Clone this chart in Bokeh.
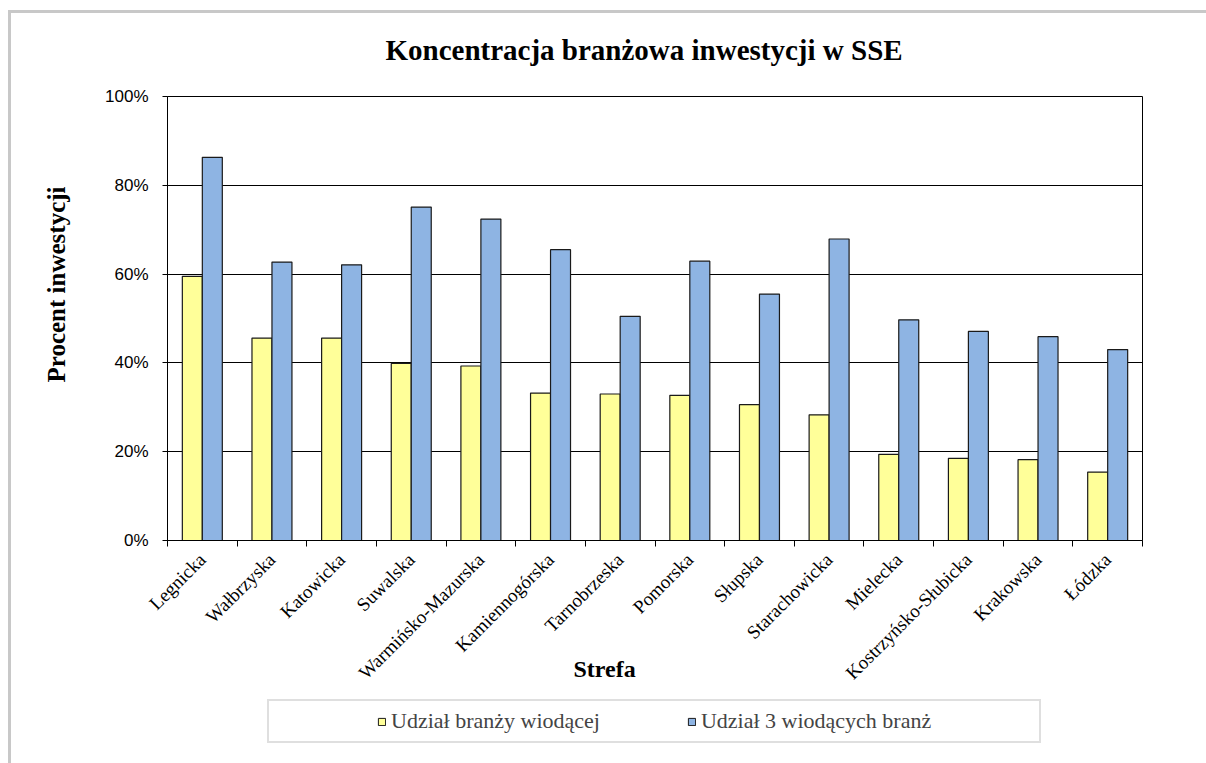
import math
from bokeh.plotting import figure
from bokeh.layouts import column
from bokeh.models import (ColumnDataSource, FixedTicker, PrintfTickFormatter, Title,
                          Legend, LegendItem, Range1d)
from bokeh.transform import dodge
from bokeh.embed import file_html
from bokeh.resources import INLINE

# ---- data ----
strefy = ["Legnicka", "Wałbrzyska", "Katowicka", "Suwalska", "Warmińsko-Mazurska",
          "Kamiennogórska", "Tarnobrzeska", "Pomorska", "Słupska", "Starachowicka",
          "Mielecka", "Kostrzyńsko-Słubicka", "Krakowska", "Łódzka"]
udzial_branzy_wiodacej = [59.5, 45.6, 45.6, 39.9, 39.3, 33.2, 33.0, 32.7, 30.6, 28.3,
                          19.4, 18.5, 18.2, 15.4]
udzial_3_branz = [86.3, 62.7, 62.1, 75.1, 72.4, 65.5, 50.5, 62.9, 55.5, 67.9,
                  49.7, 47.1, 45.9, 43.0]
y_ticks = [0, 20, 40, 60, 80, 100]
series_names = ["Udział branży wiodącej", "Udział 3 wiodących branż"]
series_colors = ["#FFFF99", "#8EB4E3"]
title_text = "Koncentracja branżowa inwestycji w SSE"
x_title = "Strefa"
y_title = "Procent inwestycji"

SERIF = "Liberation Serif"
SANS = "Liberation Sans"
EDGE = "#1a1a1a"
BORDER = "#c8c8c8"

n = len(strefy)
centers = [i + 0.5 for i in range(n)]
src = ColumnDataSource(dict(x=centers, strefa=strefy,
                            jedna=udzial_branzy_wiodacej, trzy=udzial_3_branz))

p = figure(width=1206, height=698, x_range=Range1d(0, n), y_range=Range1d(0, 100),
           output_backend="svg", toolbar_location=None,
           min_border_left=167, min_border_right=64, min_border_top=96,
           min_border_bottom=158)

bw = 0.287
p.vbar(x=dodge("x", -bw / 2), top="jedna", width=bw, source=src,
       fill_color=series_colors[0], line_color=EDGE, line_width=1.2)
p.vbar(x=dodge("x", bw / 2), top="trzy", width=bw, source=src,
       fill_color=series_colors[1], line_color=EDGE, line_width=1.2)

# title
p.title.text = title_text
p.title.text_font = SERIF
p.title.text_font_size = "29px"
p.title.text_font_style = "bold"
p.title.text_color = "black"
p.title.align = "left"
p.title.offset = 218
p.title.standoff = 62

# x axis
xa = p.xaxis[0]
xa.ticker = FixedTicker(ticks=centers, minor_ticks=list(range(n + 1)))
xa.major_label_overrides = {c: s for c, s in zip(centers, strefy)}
xa.major_tick_line_color = None
xa.major_tick_out = 0
xa.major_tick_in = 0
xa.minor_tick_line_color = "black"
xa.minor_tick_out = 6
xa.minor_tick_in = 0
xa.major_label_orientation = math.pi / 4
xa.major_label_standoff = 10
xa.major_label_text_font = SERIF
xa.major_label_text_font_size = "19px"
xa.major_label_text_color = "black"
xa.axis_line_color = "black"

# y axis
ya = p.yaxis[0]
ya.ticker = FixedTicker(ticks=y_ticks)
ya.formatter = PrintfTickFormatter(format="%d%%")
ya.major_tick_out = 5
ya.major_tick_in = 0
ya.minor_tick_line_color = None
ya.major_label_standoff = 14
ya.major_label_text_font = SANS
ya.major_label_text_font_size = "17px"
ya.major_label_text_color = "black"
ya.axis_line_color = "black"

p.xgrid.visible = False
p.ygrid.ticker = FixedTicker(ticks=y_ticks)
p.ygrid.grid_line_color = "black"
p.ygrid.grid_line_width = 1
p.outline_line_color = "black"
p.outline_line_width = 1
p.background_fill_color = "white"
p.border_fill_alpha = 0

# axis titles as side-panel titles
p.add_layout(Title(text=y_title, align="right", offset=90, standoff=66,
                   vertical_align="bottom", text_font=SERIF, text_font_style="bold",
                   text_font_size="25px", text_color="black"), "left")
p.add_layout(Title(text=x_title, align="left", offset=406, standoff=-76,
                   vertical_align="top", text_font=SERIF, text_font_style="bold",
                   text_font_size="24px", text_color="black"), "below")

# legend strip (separate small figure below the chart; its renderers are hidden)
lf = figure(width=1206, height=65, x_range=Range1d(100, 101), y_range=Range1d(-2, -1),
            output_backend="svg", toolbar_location=None, title=None,
            x_axis_location=None, y_axis_location=None,
            min_border_left=0, min_border_right=0, min_border_top=0, min_border_bottom=0)
lf.grid.visible = False
lf.outline_line_color = None
lf.border_fill_alpha = 0
lf.background_fill_alpha = 0
ld1 = lf.vbar(x="x", top="jedna", width=0.1, source=src, fill_alpha=0, line_alpha=0)
l1 = lf.vbar(x="x", top="jedna", width=0.1, source=src,
             fill_color=series_colors[0], line_color=EDGE)
l2 = lf.vbar(x="x", top="trzy", width=0.1, source=src,
             fill_color=series_colors[1], line_color=EDGE)
ld2 = lf.vbar(x="x", top="trzy", width=0.1, source=src, fill_alpha=0, line_alpha=0)
for r in (ld1, l1, l2, ld2):
    r.visible = False

legend = Legend(items=[LegendItem(label="", renderers=[ld1]),
                       LegendItem(label=series_names[0], renderers=[l1]),
                       LegendItem(label=series_names[1], renderers=[l2]),
                       LegendItem(label="", renderers=[ld2])],
                orientation="horizontal", location=(100, 20), spacing=87,
                padding=7, glyph_width=9, glyph_height=9, label_standoff=5,
                label_width=0, border_line_color="#c0c0c0", border_line_width=2,
                label_text_font=SERIF, label_text_font_size="22px",
                background_fill_color="white", background_fill_alpha=1,
                click_policy="none")
lf.add_layout(legend, "center")

layout = column(p, lf, spacing=0)
layout.styles = {
    "background": (f"linear-gradient({BORDER},{BORDER}) 8px 10px / 100% 3px no-repeat, "
                   f"linear-gradient({BORDER},{BORDER}) 8px 10px / 3px 100% no-repeat, white"),
}
open("out.html", "w").write(file_html(layout, INLINE))
